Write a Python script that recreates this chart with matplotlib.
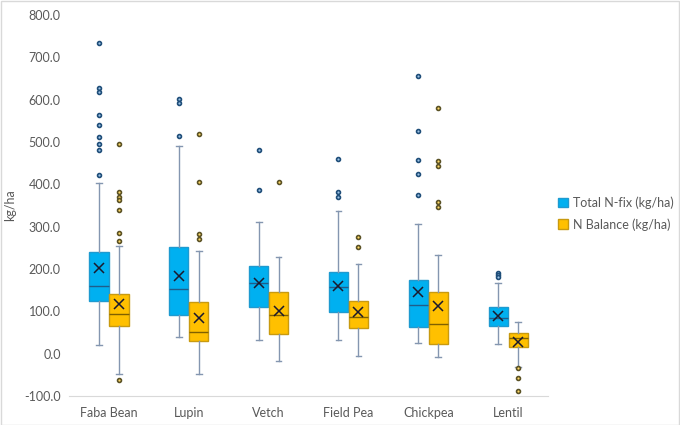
import matplotlib
matplotlib.use("Agg")
import matplotlib.pyplot as plt
from matplotlib.patches import Patch
import numpy as np

plt.rcParams["font.family"] = ["Lato", "DejaVu Sans"]

categories = ["Faba Bean", "Lupin", "Vetch", "Field Pea", "Chickpea", "Lentil"]
series_names = ["Total N-fix (kg/ha)", "N Balance (kg/ha)"]

# Total N-fix stats
nfix_whislo = [20, 39, 32, 32, 26, 23]
nfix_q1 = [124, 91, 110, 98, 62, 65]
nfix_med = [159, 153, 166, 158, 115, 85]
nfix_q3 = [240, 253, 207, 194, 175, 111]
nfix_whishi = [403, 490, 312, 336, 306, 168]
nfix_mean = [202, 184, 166, 161, 146, 90]
nfix_fliers = [
    [733, 628, 617, 563, 540, 511, 495, 481, 421],
    [602, 591, 513],
    [480, 386],
    [459, 382, 370],
    [655, 525, 457, 424, 374],
    [191, 185, 180],
]

# N Balance stats
nbal_whislo = [-47, -49, -16, -5, -7, -31]
nbal_q1 = [65, 29, 47, 61, 24, 17]
nbal_med = [93, 52, 92, 86, 70, 36]
nbal_q3 = [141, 121, 145, 125, 145, 50]
nbal_whishi = [255, 242, 229, 211, 234, 74]
nbal_mean = [117, 84, 101, 99, 113, 28]
nbal_fliers = [
    [495, 383, 370, 362, 340, 286, 265, -61],
    [518, 405, 282, 270],
    [405],
    [275, 251],
    [580, 454, 443, 358, 347],
    [-33, -57, -87],
]

yticks = [-100, 0, 100, 200, 300, 400, 500, 600, 700, 800]


def make_stats(whislo, q1, med, q3, whishi, mean, fliers):
    return [dict(whislo=a, q1=b, med=c, q3=d, whishi=e, mean=f, fliers=g)
            for a, b, c, d, e, f, g in zip(whislo, q1, med, q3, whishi, mean, fliers)]


fig = plt.figure(figsize=(6.8, 4.25), dpi=100)
ax = fig.add_axes([0.1015, 0.068, 0.7045, 0.897])

x = np.arange(len(categories))
off = 0.125
w = 0.24
tick_color = "#595959"
whisk_color = "#8496B0"

styles = [
    dict(face="#00B0F0", edge="#1E9AD0", med="#1F5D8A", flier_edge="#1F4E79", flier_face="#9DC3E6"),
    dict(face="#FFC000", edge="#C89A10", med="#7F6000", flier_edge="#5B5226", flier_face="#FFD966"),
]

stats_all = [
    make_stats(nfix_whislo, nfix_q1, nfix_med, nfix_q3, nfix_whishi, nfix_mean, nfix_fliers),
    make_stats(nbal_whislo, nbal_q1, nbal_med, nbal_q3, nbal_whishi, nbal_mean, nbal_fliers),
]

for i, (stats, st) in enumerate(zip(stats_all, styles)):
    pos = x + (-off if i == 0 else off)
    ax.bxp(stats, positions=pos, widths=w, patch_artist=True, showmeans=True,
           boxprops=dict(facecolor=st["face"], edgecolor=st["edge"], linewidth=1.0),
           medianprops=dict(color=st["med"], linewidth=1.0),
           whiskerprops=dict(color=whisk_color, linewidth=1.0),
           capprops=dict(color=whisk_color, linewidth=1.0),
           capwidths=w * 0.3,
           meanprops=dict(marker="x", markeredgecolor="#1A1A2E", markersize=7,
                          markeredgewidth=1.1, linestyle="none"),
           flierprops=dict(marker="o", markersize=2.8, markeredgewidth=1.2,
                           markeredgecolor=st["flier_edge"], markerfacecolor=st["flier_face"],
                           linestyle="none"))

ax.set_xlim(-0.5, len(categories) - 0.5)
ax.set_ylim(-100, 800)
ax.set_yticks(yticks)
ax.set_yticklabels([f"{v:.1f}" for v in yticks])
ax.set_xticks(x)
ax.set_xticklabels(categories)
ax.tick_params(axis="both", length=0, colors=tick_color, labelsize=9)
ax.tick_params(axis="y", pad=6)
ax.tick_params(axis="x", pad=8)
for s in ["top", "right", "left"]:
    ax.spines[s].set_visible(False)
ax.spines["bottom"].set_color("#D9D9D9")
ax.set_ylabel("kg/ha", color=tick_color, fontsize=9, labelpad=6)

handles = [Patch(facecolor=styles[0]["face"], edgecolor=styles[0]["edge"], label=series_names[0]),
           Patch(facecolor=styles[1]["face"], edgecolor=styles[1]["edge"], label=series_names[1])]
leg = fig.legend(handles=handles, loc="center left", bbox_to_anchor=(0.82, 0.498),
                 frameon=False, fontsize=9, handlelength=0.8, handleheight=0.8,
                 handletextpad=0.4, labelspacing=0.75, borderpad=0, borderaxespad=0)
for t in leg.get_texts():
    t.set_color(tick_color)

fig.patches.append(plt.Rectangle((0.001, 0.001), 0.998, 0.997, transform=fig.transFigure,
                                 fill=False, edgecolor="#D9D9D9", linewidth=1.0))

fig.savefig("out.png", dpi=100)
